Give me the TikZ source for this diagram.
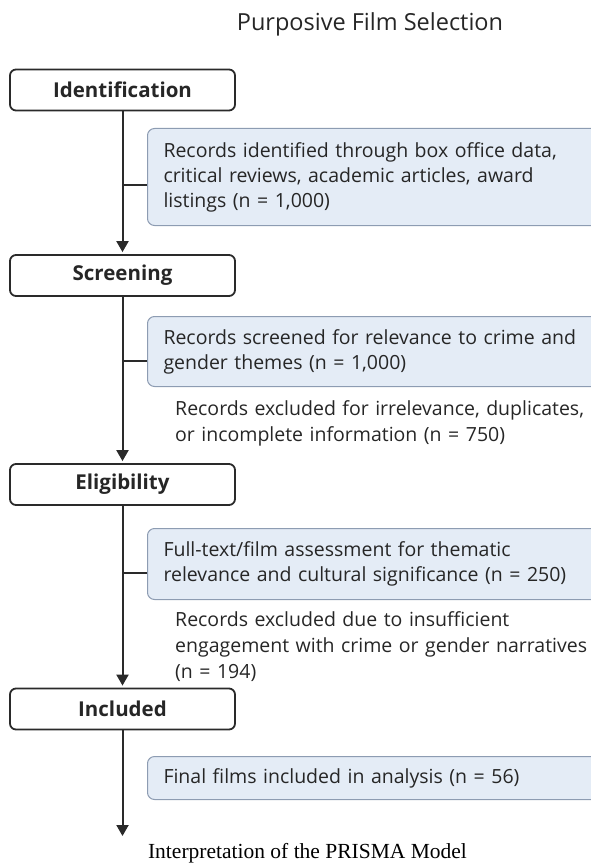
\documentclass[tikz,border=0pt]{standalone}
\usepackage{fontspec}
\setmainfont{Open Sans}
\newfontfamily\capfont{Liberation Serif}
\usetikzlibrary{arrows.meta}
\definecolor{linec}{HTML}{2A2A2A}
\definecolor{bluefill}{HTML}{E4ECF6}
\definecolor{blueline}{HTML}{8D9CB2}
\definecolor{txt}{HTML}{262626}
\begin{document}
\begin{tikzpicture}[x=1pt,y=-1pt,
  stagebox/.style={draw=linec, line width=1.8pt, rounded corners=6pt, fill=white,
    minimum width=225pt, minimum height=41pt, inner sep=0pt,
    font=\fontsize{20.5}{24}\selectfont\bfseries, text=txt},
  infobox/.style={draw=blueline, line width=1pt, rounded corners=7pt, fill=bluefill,
    minimum width=460pt, anchor=north west, inner xsep=16pt, inner ysep=0pt,
    text width=428pt, align=left, text=txt,
    font=\fontsize{19.5}{25}\selectfont},
  excltext/.style={anchor=north west, inner sep=0pt, text width=420pt, align=left,
    text=txt, font=\fontsize{19.5}{26}\selectfont},
  flow/.style={draw=linec, line width=2pt, -{Triangle[length=11pt,width=12pt]}, shorten >=2pt},
  conn/.style={draw=linec, line width=2pt}
]
\useasboundingbox (0,0) rectangle (591,864);
\clip (0,0) rectangle (591,864);

\node[font=\fontsize{23.5}{28}\selectfont, text=txt] (title) at (370,24) {Purposive Film Selection};

\node[stagebox] (id) at (122.5,90) {Identification};
\node[stagebox] (sc) at (122.5,275.5) {Screening};
\node[stagebox] (el) at (122.5,484.5) {Eligibility};
\node[stagebox] (in) at (122.5,709) {Included};

\node[infobox, minimum height=97pt] (b1) at (147,128)
  {Records identified through box office data,\\critical reviews, academic articles, award\\listings (n = 1,000)};
\node[infobox, minimum height=70pt] (b2) at (147,316)
  {Records screened for relevance to crime and\\gender themes (n = 1,000)};
\node[infobox, minimum height=71pt] (b3) at (147,528)
  {Full-text/film assessment for thematic\\relevance and cultural significance (n = 250)};
\node[infobox, minimum height=43pt] (b4) at (147,756)
  {Final films included in analysis (n = 56)};

\node[excltext] (x1) at (175,400)
  {Records excluded for irrelevance, duplicates,\\or incomplete information (n = 750)};
\node[excltext] (x2) at (175,611)
  {Records excluded due to insufficient\\engagement with crime or gender narratives\\(n = 194)};

\coordinate (c1) at (147,185);
\coordinate (c2) at (147,361);
\coordinate (c3) at (147,573);
\coordinate (endpt) at (122.5,836);

\draw[flow] (id.south) -- (sc.north);
\draw[flow] (sc.south) -- (el.north);
\draw[flow] (el.south) -- (in.north);
\draw[flow, shorten >=0pt] (in.south) -- (endpt);

\draw[conn] (id.south |- c1) -- (c1);
\draw[conn] (sc.south |- c2) -- (c2);
\draw[conn] (el.south |- c3) -- (c3);

\node[font=\capfont\fontsize{21.5}{24}\selectfont, text=black] (cap) at (307.5,853)
  {Interpretation of the PRISMA Model};
\end{tikzpicture}
\end{document}
